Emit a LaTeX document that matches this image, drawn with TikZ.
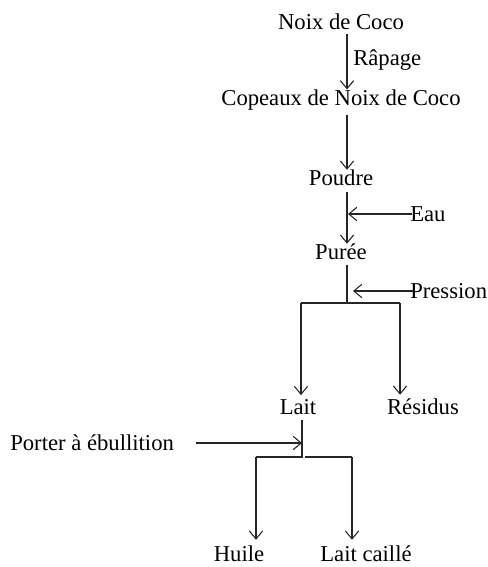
\documentclass[tikz,border=0pt]{standalone}
\usepackage{fontspec}
\setmainfont{Liberation Serif}
\usetikzlibrary{arrows.meta,calc}
\tikzset{
  fl/.style={draw=black!85, line width=0.8pt, -{Straight Barb[length=6pt,width=10pt]}},
  ln/.style={draw=black!85, line width=0.8pt},
  lbl/.style={inner sep=0pt, font=\fontsize{17}{19}\selectfont}
}
\begin{document}
\begin{tikzpicture}[x=0.75pt, y=-0.75pt]
\useasboundingbox (0,0) rectangle (487,567);
% main column
\coordinate (spine) at (347,0);
\node[lbl] (noix) at (341,22) {Noix de Coco};
\node[lbl] (copeaux) at (341,100) {Copeaux de Noix de Coco};
\node[lbl] (poudre) at (341,178) {Poudre};
\node[lbl] (puree) at (341,252) {Purée};
\node[lbl, anchor=west] (rapage) at (353,60) {Râpage};
\node[lbl, anchor=west] (eau) at (410,214) {Eau};
\node[lbl, anchor=west] (pression) at (410,291) {Pression};
\draw[fl] ($(noix.south -| spine)+(0,4)$) -- (copeaux.north -| spine);
\draw[fl] ($(copeaux.south -| spine)+(0,4)$) -- (poudre.north -| spine);
\draw[fl] ($(poudre.south -| spine)+(0,6)$) -- (puree.north -| spine);
\draw[fl] ($(eau.west)+(2,0)$) -- ($(eau.west -| spine)+(1,0)$);
% separation
\coordinate (split) at (347,303);
\coordinate (gauche) at (301,303);
\coordinate (droite) at (400,303);
\node[lbl] (lait) at (298,407) {Lait};
\node[lbl] (residus) at (423,407) {Résidus};
\draw[ln] ($(puree.south -| spine)+(0,5)$) -- (split);
\draw[fl] ($(pression.west)+(3,0)$) -- ($(pression.west -| spine)+(6,0)$);
\draw[ln] (gauche) -- (droite);
\draw[fl] (gauche) -- ($(gauche |- lait.north)+(0,-4)$);
\draw[fl] (droite) -- ($(droite |- residus.north)+(0,-4)$);
% ebullition
\node[lbl, anchor=west] (ebul) at (10,443) {Porter à ébullition};
\coordinate (bas) at (302,457);
\coordinate (hg) at (256,457);
\coordinate (hd) at (305,457);
\coordinate (hd2) at (352,457);
\node[lbl] (huile) at (239,554) {Huile};
\node[lbl] (caille) at (366,554) {Lait caillé};
\draw[ln] ($(lait.south -| bas)+(0,5)$) -- (bas) -- (hg);
\draw[fl] ($(ebul.east)+(22,0)$) -- (ebul.east -| bas);
\draw[fl] (hg) -- ($(hg |- huile.north)+(0,-6)$);
\draw[ln] (hd) -- (hd2);
\draw[fl] (hd2) -- ($(hd2 |- caille.north)+(0,-6)$);
\end{tikzpicture}
\end{document}
